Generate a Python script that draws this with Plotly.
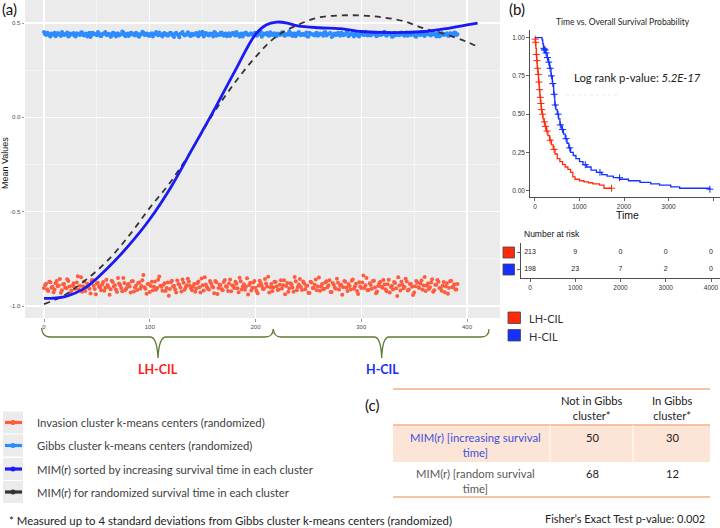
import plotly.graph_objects as go

W, H = 720, 528

# ---------------- DATA ----------------
# Panel (a): scatter of k-means centers (even and odd x positions)
X_EVEN = list(range(0, 392, 2))
X_ODD = list(range(1, 392, 2))
GIBBS_Y_EVEN = [
0.452,0.437,0.446,0.429,0.441,0.448,0.435,0.443,0.431,0.445,0.439,0.450,0.433,0.442,
0.447,0.428,0.440,0.436,0.451,0.434,0.444,0.438,0.426,0.449,0.441,0.435,0.446,0.430,
0.443,0.452,0.437,0.440,0.433,0.447,0.429,0.444,0.438,0.455,0.436,0.442,0.431,0.448,
0.439,0.434,0.445,0.427,0.441,0.450,0.436,0.443,0.432,0.446,0.438,0.453,0.435,0.440,
0.429,0.447,0.442,0.437,0.449,0.433,0.444,0.439,0.425,0.446,0.441,0.436,0.451,0.432,
0.443,0.438,0.447,0.430,0.440,0.454,0.437,0.445,0.434,0.442,0.428,0.448,0.439,0.436,
0.450,0.433,0.444,0.440,0.431,0.446,0.437,0.452,0.435,0.443,0.429,0.447,0.441,0.438,
0.445,0.432,0.449,0.436,0.442,0.427,0.444,0.440,0.434,0.451,0.437,0.446,0.431,0.443,
0.439,0.448,0.433,0.441,0.456,0.435,0.444,0.430,0.447,0.438,0.442,0.436,0.450,0.428,
0.445,0.440,0.434,0.448,0.437,0.443,0.432,0.453,0.439,0.446,0.426,0.441,0.436,0.449,
0.433,0.444,0.438,0.451,0.430,0.442,0.447,0.435,0.440,0.429,0.446,0.437,0.452,0.434,
0.443,0.439,0.448,0.431,0.445,0.436,0.441,0.454,0.433,0.447,0.438,0.428,0.444,0.440,
0.435,0.450,0.437,0.443,0.432,0.446,0.439,0.449,0.427,0.442,0.436,0.445,0.431,0.448,
0.440,0.434,0.451,0.438,0.444,0.429,0.447,0.436,0.442,0.433,0.446,0.439,0.450,0.437]
GIBBS_Y_ODD = [
0.441,0.449,0.434,0.444,0.438,0.430,0.447,0.440,0.452,0.436,0.443,0.428,0.445,0.439,
0.433,0.446,0.441,0.450,0.437,0.442,0.429,0.448,0.435,0.444,0.439,0.453,0.432,0.440,
0.446,0.436,0.443,0.427,0.449,0.438,0.445,0.434,0.441,0.451,0.430,0.444,0.437,0.447,
0.442,0.448,0.431,0.440,0.454,0.436,0.445,0.433,0.443,0.428,0.446,0.439,0.450,0.435,
0.444,0.438,0.432,0.447,0.441,0.426,0.449,0.437,0.443,0.452,0.434,0.440,0.446,0.431,
0.438,0.445,0.435,0.451,0.442,0.429,0.447,0.436,0.444,0.440,0.453,0.433,0.441,0.448,
0.437,0.443,0.430,0.446,0.439,0.449,0.434,0.442,0.427,0.445,0.438,0.450,0.436,0.444,
0.440,0.447,0.432,0.443,0.455,0.437,0.441,0.448,0.433,0.446,0.439,0.429,0.444,0.436,
0.451,0.434,0.442,0.438,0.447,0.431,0.445,0.440,0.453,0.435,0.443,0.437,0.428,0.449,
0.441,0.436,0.446,0.432,0.444,0.439,0.450,0.434,0.442,0.447,0.430,0.445,0.438,0.443,
0.448,0.435,0.440,0.452,0.437,0.444,0.429,0.446,0.433,0.441,0.449,0.436,0.443,0.439,
0.434,0.447,0.442,0.431,0.445,0.438,0.451,0.436,0.440,0.444,0.427,0.448,0.435,0.443,
0.446,0.439,0.433,0.450,0.441,0.437,0.444,0.430,0.447,0.438,0.452,0.435,0.442,0.440,
0.436,0.445,0.441,0.429,0.448,0.434,0.443,0.439,0.446,0.432,0.444,0.437,0.449,0.441]
INVASION_Y_EVEN = [
-0.905,-0.882,-0.921,-0.874,-0.898,-0.913,-0.867,-0.891,-0.930,-0.885,-0.902,-0.858,-0.896,-0.918,
-0.879,-0.908,-0.842,-0.893,-0.925,-0.870,-0.899,-0.887,-0.934,-0.862,-0.910,-0.881,-0.896,-0.916,
-0.873,-0.903,-0.889,-0.940,-0.866,-0.897,-0.912,-0.851,-0.890,-0.922,-0.878,-0.906,-0.884,-0.928,
-0.869,-0.900,-0.915,-0.876,-0.894,-0.836,-0.909,-0.883,-0.926,-0.871,-0.898,-0.914,-0.861,-0.892,
-0.919,-0.880,-0.904,-0.945,-0.874,-0.896,-0.911,-0.865,-0.888,-0.923,-0.877,-0.901,-0.856,-0.893,
-0.917,-0.884,-0.907,-0.870,-0.929,-0.890,-0.848,-0.899,-0.913,-0.879,-0.902,-0.867,-0.936,-0.887,
-0.910,-0.873,-0.895,-0.920,-0.860,-0.891,-0.905,-0.882,-0.927,-0.869,-0.897,-0.914,-0.853,-0.889,
-0.918,-0.876,-0.903,-0.932,-0.866,-0.894,-0.908,-0.881,-0.845,-0.900,-0.921,-0.872,-0.896,-0.912,
-0.863,-0.890,-0.938,-0.878,-0.906,-0.885,-0.924,-0.869,-0.899,-0.857,-0.915,-0.880,-0.893,-0.930,
-0.871,-0.904,-0.887,-0.917,-0.849,-0.896,-0.911,-0.875,-0.901,-0.864,-0.926,-0.888,-0.908,-0.877,
-0.892,-0.941,-0.868,-0.902,-0.883,-0.913,-0.859,-0.897,-0.920,-0.874,-0.905,-0.838,-0.890,-0.916,
-0.880,-0.909,-0.866,-0.933,-0.894,-0.872,-0.903,-0.886,-0.922,-0.861,-0.899,-0.912,-0.878,-0.947,
-0.891,-0.870,-0.906,-0.855,-0.918,-0.884,-0.898,-0.928,-0.867,-0.901,-0.881,-0.914,-0.846,-0.893,
-0.910,-0.876,-0.924,-0.888,-0.862,-0.904,-0.919,-0.873,-0.897,-0.935,-0.869,-0.900,-0.885,-0.912]
INVASION_Y_ODD = [
-0.889,-0.912,-0.871,-0.903,-0.927,-0.880,-0.895,-0.857,-0.917,-0.884,-0.906,-0.868,-0.931,-0.892,
-0.900,-0.875,-0.914,-0.847,-0.896,-0.921,-0.882,-0.908,-0.865,-0.893,-0.938,-0.877,-0.902,-0.886,
-0.919,-0.861,-0.899,-0.911,-0.873,-0.890,-0.926,-0.881,-0.904,-0.852,-0.915,-0.887,-0.897,-0.869,
-0.923,-0.891,-0.878,-0.909,-0.863,-0.901,-0.935,-0.884,-0.894,-0.916,-0.870,-0.905,-0.843,-0.898,
-0.888,-0.920,-0.876,-0.910,-0.866,-0.893,-0.929,-0.883,-0.902,-0.859,-0.914,-0.890,-0.872,-0.907,
-0.897,-0.925,-0.879,-0.900,-0.854,-0.918,-0.886,-0.909,-0.868,-0.895,-0.933,-0.874,-0.904,-0.889,
-0.916,-0.862,-0.899,-0.881,-0.922,-0.893,-0.871,-0.906,-0.850,-0.912,-0.885,-0.898,-0.939,-0.877,
-0.903,-0.867,-0.920,-0.891,-0.880,-0.910,-0.857,-0.896,-0.928,-0.883,-0.901,-0.873,-0.915,-0.888,
-0.907,-0.864,-0.894,-0.924,-0.879,-0.902,-0.846,-0.917,-0.886,-0.899,-0.870,-0.911,-0.893,-0.931,
-0.876,-0.905,-0.860,-0.897,-0.919,-0.884,-0.908,-0.869,-0.890,-0.926,-0.878,-0.903,-0.855,-0.913,
-0.887,-0.900,-0.872,-0.921,-0.894,-0.866,-0.909,-0.882,-0.937,-0.896,-0.875,-0.904,-0.851,-0.915,
-0.889,-0.868,-0.902,-0.923,-0.880,-0.898,-0.862,-0.911,-0.885,-0.929,-0.892,-0.873,-0.906,-0.848,
-0.918,-0.887,-0.899,-0.870,-0.913,-0.883,-0.942,-0.895,-0.877,-0.905,-0.865,-0.891,-0.920,-0.881,
-0.901,-0.858,-0.916,-0.888,-0.872,-0.907,-0.893,-0.927,-0.879,-0.903,-0.866,-0.897,-0.912,-0.884]

# Panel (a): smoothed MIM(r) curves
CURVE_X = [0, 20, 40, 60, 80, 100, 120, 140, 160, 180, 200, 210, 220, 230, 240, 260, 280,
           300, 320, 340, 360, 380, 400, 410]
SORTED_Y = [-0.96, -0.95, -0.90, -0.80, -0.68, -0.54, -0.37, -0.17, 0.03, 0.24, 0.44, 0.49,
            0.505, 0.50, 0.485, 0.475, 0.47, 0.455, 0.45, 0.45, 0.455, 0.47, 0.49, 0.50]
CURVE_X2 = [0, 20, 40, 60, 80, 100, 120, 140, 160, 180, 200, 220, 240, 260, 280, 300, 320,
            340, 360, 380, 400, 410]
RANDOM_Y = [-0.99, -0.94, -0.86, -0.76, -0.63, -0.48, -0.34, -0.17, 0.02, 0.18, 0.32, 0.43,
            0.49, 0.53, 0.54, 0.54, 0.53, 0.51, 0.47, 0.44, 0.40, 0.375]
A_XTICKS = [0, 100, 200, 300, 400]
A_YTICKS = [-1.0, -0.5, 0.0, 0.5]

# Panel (b): Kaplan-Meier steps
LH_T = [0, 10, 20, 30, 40, 50, 65, 80, 95, 110, 125, 140, 160, 180, 200, 225, 255, 290, 330,
        370, 410, 450, 500, 560, 620, 680, 740, 800, 850, 900, 1000, 1100, 1200, 1300, 1450,
        1550, 1720]
LH_S = [1.0, 0.97, 0.93, 0.89, 0.85, 0.80, 0.76, 0.71, 0.66, 0.61, 0.57, 0.53, 0.50, 0.47,
        0.45, 0.42, 0.39, 0.36, 0.33, 0.30, 0.27, 0.24, 0.21, 0.19, 0.17, 0.155, 0.14, 0.12,
        0.09, 0.075, 0.065, 0.058, 0.052, 0.045, 0.037, 0.016, 0.016]
H_T = [0, 160, 175, 190, 210, 240, 270, 300, 330, 360, 390, 420, 445, 470, 500, 530, 560, 600,
       640, 680, 720, 760, 800, 860, 920, 1000, 1080, 1160, 1260, 1380, 1500, 1620, 1760, 1900,
       2100, 2360, 2600, 2800, 3050, 3250, 3930]
H_S = [1.0, 0.985, 0.96, 0.93, 0.92, 0.90, 0.87, 0.84, 0.80, 0.75, 0.70, 0.63, 0.56, 0.53,
       0.50, 0.47, 0.43, 0.40, 0.37, 0.34, 0.31, 0.28, 0.25, 0.23, 0.21, 0.19, 0.17, 0.155,
       0.135, 0.12, 0.105, 0.095, 0.085, 0.075, 0.065, 0.055, 0.045, 0.037, 0.025, 0.016, 0.01]
LH_CENS_T = [5, 15, 30, 45, 60, 75, 90, 105, 120, 135, 150, 170, 210, 235, 270, 340, 430, 1720]
LH_CENS_S = [0.99, 0.97, 0.89, 0.85, 0.80, 0.76, 0.71, 0.66, 0.61, 0.57, 0.53, 0.50, 0.45,
             0.42, 0.39, 0.33, 0.27, 0.016]
H_CENS_T = [200, 215, 225, 250, 280, 310, 340, 370, 400, 430, 455, 520, 570, 620, 700, 780,
            1130, 1460, 1900, 3930]
H_CENS_S = [0.93, 0.92, 0.92, 0.90, 0.87, 0.84, 0.80, 0.75, 0.70, 0.63, 0.56, 0.50, 0.43,
            0.40, 0.34, 0.28, 0.17, 0.12, 0.085, 0.01]
KM_XTICKS = [0, 1000, 2000, 3000, 4000]
KM_YTICKS = [0.0, 0.25, 0.5, 0.75, 1.0]
RISK_TIMES = [0, 1000, 2000, 3000, 4000]
RISK_LH = [213, 9, 0, 0, 0]
RISK_H = [198, 23, 7, 2, 0]

# Panel (c): contingency table
TABLE_COLS = ["Not in Gibbs<br>cluster*", "In Gibbs<br>cluster*"]
TABLE_ROWS = ["MIM(r) [increasing survival<br>time]", "MIM(r) [random survival<br>time]"]
TABLE_VALUES = [[50, 30], [68, 12]]

LEGEND_A = ["Invasion cluster k-means centers (randomized)",
            "Gibbs cluster k-means centers (randomized)",
            "MIM(r) sorted by increasing survival time in each cluster",
            "MIM(r) for randomized survival time in each cluster"]

# ---------------- STYLE ----------------
C_INV = "#FF5B3F"
C_GIBBS = "#2C8CFF"
C_SORT = "#1A1AF5"
C_RAND = "#333333"
C_KM_RED = "#FF2A0A"
C_KM_BLUE = "#1530FF"
GG = "Liberation Sans"
CAL = "Lato"


def px(x):
    return x / W


def py(y):
    return 1 - y / H


def note(x, y, text, size, color="#222", family=CAL, xa="center", ya="middle", **kw):
    d = dict(x=px(x), y=py(y), xref="paper", yref="paper", text=text, showarrow=False,
             xanchor=xa, yanchor=ya, font=dict(family=family, size=size, color=color))
    d.update(kw)
    return d


fig = go.Figure()

# ---- panel (a) traces
for xs, ys, c in [(X_EVEN, GIBBS_Y_EVEN, C_GIBBS), (X_ODD, GIBBS_Y_ODD, C_GIBBS),
                  (X_EVEN, INVASION_Y_EVEN, C_INV), (X_ODD, INVASION_Y_ODD, C_INV)]:
    fig.add_trace(go.Scatter(x=xs, y=ys, mode="markers",
                             marker=dict(color=c, size=4, line=dict(width=0)),
                             xaxis="x", yaxis="y", showlegend=False, hoverinfo="skip"))
fig.add_trace(go.Scatter(x=CURVE_X2, y=RANDOM_Y, mode="lines",
                         line=dict(color=C_RAND, width=1.8, dash="6px,5px", shape="spline"),
                         xaxis="x", yaxis="y", showlegend=False))
fig.add_trace(go.Scatter(x=CURVE_X, y=SORTED_Y, mode="lines",
                         line=dict(color=C_SORT, width=2.8, shape="spline"),
                         xaxis="x", yaxis="y", showlegend=False))

# ---- panel (b) KM
for t, s, ct, cs, c in [(LH_T, LH_S, LH_CENS_T, LH_CENS_S, C_KM_RED),
                        (H_T, H_S, H_CENS_T, H_CENS_S, C_KM_BLUE)]:
    fig.add_trace(go.Scatter(x=t, y=s, mode="lines", line=dict(color=c, width=1.3, shape="hv"),
                             xaxis="x2", yaxis="y2", showlegend=False))
    fig.add_trace(go.Scatter(x=ct, y=cs, mode="markers",
                             marker=dict(symbol="cross-thin", size=5, color=c,
                                         line=dict(color=c, width=1)),
                             xaxis="x2", yaxis="y2", showlegend=False))

# ---- risk table
fig.add_trace(go.Scatter(x=RISK_TIMES, y=[2] * len(RISK_LH), mode="text",
                         text=[str(v) for v in RISK_LH],
                         textfont=dict(family=GG, size=7, color="#222"),
                         xaxis="x3", yaxis="y3", showlegend=False))
fig.add_trace(go.Scatter(x=RISK_TIMES, y=[1] * len(RISK_H), mode="text",
                         text=[str(v) for v in RISK_H],
                         textfont=dict(family=GG, size=7, color="#222"),
                         xaxis="x3", yaxis="y3", showlegend=False))

shapes = []
ann = []

# gray background for panel (a)
shapes.append(dict(type="rect", xref="x domain", yref="y domain", x0=0, x1=1, y0=0, y1=1,
                   fillcolor="#EBEBEB", line=dict(width=0), layer="below"))


def brace(points):
    out = []
    for cmd, coords in points:
        pts = " ".join(f"{px(x):.5f},{py(y):.5f}" for x, y in coords)
        out.append(f"{cmd} {pts}")
    return " ".join(out)


BRACE_COLOR = "#5E7A32"
b1 = brace([("M", [(41.7, 328)]), ("Q", [(42, 337), (50, 337)]), ("L", [(150, 337)]),
            ("Q", [(157, 337), (158, 358)]), ("Q", [(159, 337), (166, 337)]),
            ("L", [(265, 337)]), ("Q", [(273, 337), (273.3, 329)])])
b2 = brace([("M", [(273.3, 329)]), ("Q", [(274, 337), (281, 337)]), ("L", [(374, 337)]),
            ("Q", [(381, 337), (381.7, 358)]), ("Q", [(382.5, 337), (389, 337)]),
            ("L", [(481, 337)]), ("Q", [(489, 337), (489, 329)])])
for b in (b1, b2):
    shapes.append(dict(type="path", xref="paper", yref="paper", path=b,
                       line=dict(color=BRACE_COLOR, width=1.3)))

ann.append(note(158, 369, "<b>LH-CIL</b>", 12.5, "#FF1A1A"))
ann.append(note(382, 369, "<b>H-CIL</b>", 12.5, "#1A2BFF"))

# panel labels
ann.append(note(0, 9, "(a)", 15, "#111", xa="left"))
ann.append(note(507, 9, "(b)", 15, "#111", xa="left"))
ann.append(note(372, 405, "(c)", 15, "#111"))

# y-axis title panel (a)
ann.append(note(5, 163, "Mean Values", 9, "#111", family=GG, textangle=-90))

# panel (b) texts
ann.append(note(623, 21.5, "Time vs. Overall Survival Probability", 8.5))
ann.append(note(572, 77, "Log rank p-value: <i>5.2E-17</i>", 11.3, xa="left"))
shapes.append(dict(type="line", xref="paper", yref="paper", x0=px(566), x1=px(620),
                   y0=py(95), y1=py(95), line=dict(color="#DEDEDE", width=0.7, dash="dot")))
ann.append(note(627, 214.5, "Time", 10.5, "#111", family=GG))
ann.append(note(522, 234, "Number at risk", 8.5, "#111", family=GG, xa="left"))

# risk-table colour keys
for y0, c in [(247, C_KM_RED), (264, C_KM_BLUE)]:
    shapes.append(dict(type="rect", xref="paper", yref="paper", x0=px(503), x1=px(514.5),
                       y0=py(y0), y1=py(y0 + 11), fillcolor=c, line=dict(color="#444", width=0.8)))

# KM group legend
for y0, c, lab in [(312, C_KM_RED, "LH-CIL"), (329.5, C_KM_BLUE, "H-CIL")]:
    shapes.append(dict(type="rect", xref="paper", yref="paper", x0=px(508), x1=px(520.5),
                       y0=py(y0), y1=py(y0 + 11.5), fillcolor=c, line=dict(color="#444", width=0.8)))
    ann.append(note(527, y0 + 6.5, lab, 11, "#333", xa="left"))

# panel (a) legend
LEG_COLORS = [C_INV, C_GIBBS, C_SORT, C_RAND]
LEG_Y = [422.5, 445.5, 469, 492]
for c, yc, lab in zip(LEG_COLORS, LEG_Y, LEGEND_A):
    shapes.append(dict(type="rect", xref="paper", yref="paper", x0=px(3), x1=px(23),
                       y0=py(yc - 11), y1=py(yc + 11), fillcolor="#EBEBEB", line=dict(width=0)))
    shapes.append(dict(type="line", xref="paper", yref="paper", x0=px(5), x1=px(22),
                       y0=py(yc), y1=py(yc), line=dict(color=c, width=3.2)))
    shapes.append(dict(type="circle", xref="paper", yref="paper", x0=px(10.5), x1=px(15.5),
                       y0=py(yc - 2.5), y1=py(yc + 2.5), fillcolor=c, line=dict(width=0)))
    ann.append(note(35, yc, lab, 11.3, "#404040", xa="left"))

ann.append(note(7, 520, "* Measured up to 4 standard deviations from Gibbs cluster k-means centers (randomized)",
                11.4, xa="left"))
ann.append(note(707, 518, "Fisher\u2019s Exact Test p-value: 0.002", 11, xa="right"))

# table (c)
ORANGE = "#F4B183"
shapes.append(dict(type="rect", xref="paper", yref="paper", x0=px(393), x1=px(710),
                   y0=py(425), y1=py(462), fillcolor="#FCE4D6", line=dict(width=0), layer="below"))
for yl in (389, 425, 497):
    shapes.append(dict(type="line", xref="paper", yref="paper", x0=px(393), x1=px(710),
                       y0=py(yl), y1=py(yl), line=dict(color=ORANGE, width=1.6)))
for xl in (550, 633):
    shapes.append(dict(type="line", xref="paper", yref="paper", x0=px(xl), x1=px(xl),
                       y0=py(425), y1=py(462), line=dict(color="white", width=1)))
COL_X = [592, 672]
for cx, lab in zip(COL_X, TABLE_COLS):
    ann.append(note(cx, 407.5, lab, 11.2))
ROW_Y = [437.5, 473.5]
ROW_COL = ["#3F50E0", "#595959"]
for ry, lab, rc, vals in zip(ROW_Y, TABLE_ROWS, ROW_COL, TABLE_VALUES):
    ann.append(note(475, ry + 7, lab, 11.3, rc))
    for cx, v in zip(COL_X, vals):
        ann.append(note(cx, ry, str(v), 11.2))

# ---------------- LAYOUT ----------------
tick_font_a = dict(family=GG, size=6, color="#4D4D4D")
km_tick_font = dict(family=GG, size=6.5, color="#333")
fig.update_layout(
    template="none",
    width=W, height=H, margin=dict(l=0, r=0, t=0, b=0, autoexpand=False),
    paper_bgcolor="white", plot_bgcolor="rgba(0,0,0,0)",
    showlegend=False, hovermode=False,
    shapes=shapes, annotations=ann,
    xaxis=dict(domain=[px(25), px(500)], range=[-17.97, 431.2], anchor="y", automargin=False,
               tickvals=A_XTICKS, ticktext=[str(v) for v in A_XTICKS],
               showgrid=True, gridcolor="white", gridwidth=1.1, zeroline=False,
               ticks="outside", ticklen=2.5, tickcolor="#555", tickwidth=0.6,
               tickfont=tick_font_a, showline=False,
               minor=dict(tickvals=[50, 150, 250, 350], showgrid=True, gridcolor="white",
                          gridwidth=0.5, ticks="")),
    yaxis=dict(domain=[py(318), py(0)], range=[-1.0636, 0.622], anchor="x", automargin=False,
               tickvals=A_YTICKS, ticktext=["-1.0", "-0.5", "0.0", "0.5"],
               showgrid=True, gridcolor="white", gridwidth=1.1, zeroline=False,
               ticks="outside", ticklen=2.5, tickcolor="#555", tickwidth=0.6,
               tickfont=tick_font_a, showline=False,
               minor=dict(tickvals=[-0.75, -0.25, 0.25], showgrid=True, gridcolor="white",
                          gridwidth=0.5, ticks="")),
    xaxis2=dict(domain=[px(530), px(720)], range=[-112, 4157], anchor="y2", automargin=False,
                tickvals=KM_XTICKS, ticktext=[str(v) for v in KM_XTICKS],
                showgrid=False, zeroline=False, showline=True, linecolor="#222",
                linewidth=0.8, ticks="outside", ticklen=3, tickcolor="#222", tickwidth=0.7,
                tickfont=km_tick_font),
    yaxis2=dict(domain=[py(197), py(30)], range=[-0.041, 1.05], anchor="x2", automargin=False,
                tickvals=KM_YTICKS, ticktext=["0.00", "0.25", "0.50", "0.75", "1.00"],
                showgrid=False, zeroline=False, showline=True, linecolor="#222",
                linewidth=0.8, ticks="outside", ticklen=3, tickcolor="#222", tickwidth=0.7,
                tickfont=km_tick_font),
    xaxis3=dict(domain=[px(521), px(720)], range=[-199, 4199], anchor="y3", automargin=False,
                tickvals=RISK_TIMES, ticktext=[str(v) for v in RISK_TIMES],
                showgrid=False, zeroline=False, showline=True, linecolor="#222",
                linewidth=0.8, ticks="outside", ticklen=3, tickcolor="#222", tickwidth=0.7,
                tickfont=km_tick_font),
    yaxis3=dict(domain=[py(278), py(243)], range=[0.476, 2.58], anchor="x3", automargin=False,
                tickvals=[1, 2], ticktext=["", ""], showgrid=False, zeroline=False,
                showline=True, linecolor="#222", linewidth=0.8, ticks="outside", ticklen=3,
                tickcolor="#222", tickwidth=0.7),
)

fig.write_html("out.html", config={"displayModeBar": False, "staticPlot": True},
               post_script="document.body.style.margin='0';document.body.style.padding='0';")
